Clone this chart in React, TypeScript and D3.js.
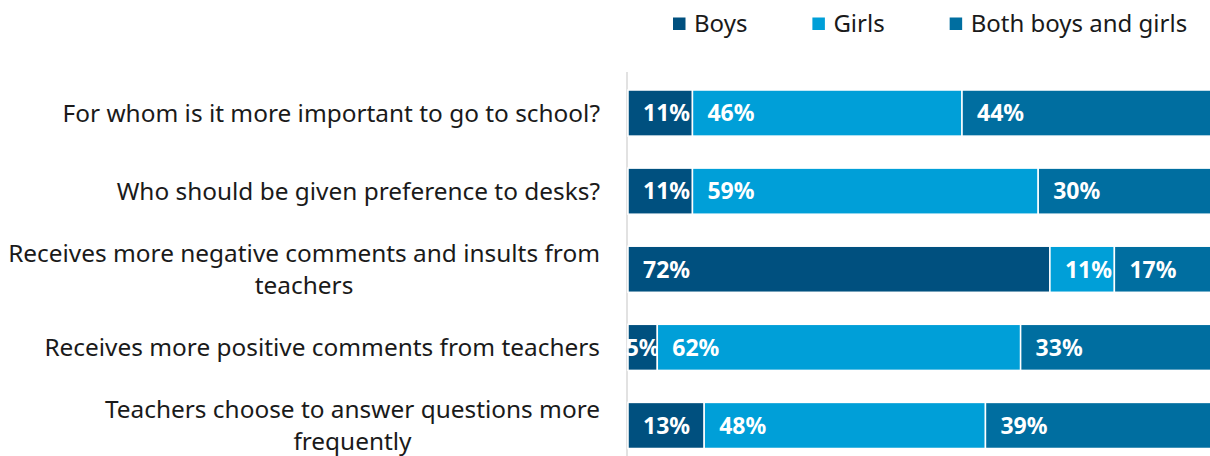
import React, { useEffect, useRef } from 'react';
import * as d3 from 'd3';

// question labels, pre-wrapped the way the source chart wraps them
const questions: string[][] = [
  ['For whom is it more important to go to school?'],
  ['Who should be given preference to desks?'],
  ['Receives more negative comments and insults from', 'teachers'],
  ['Receives more positive comments from teachers'],
  ['Teachers choose to answer questions more', 'frequently'],
];

const seriesNames = ['Boys', 'Girls', 'Both boys and girls'];
const boys = [11, 11, 72, 5, 13];
const girls = [46, 59, 11, 62, 48];
const both = [44, 30, 17, 33, 39];

const colors = ['#00507f', '#009fd8', '#006ea0'];

const W = 1210;
const H = 456;
const FONT = '"Noto Sans", "Open Sans", sans-serif';

const App: React.FC = () => {
  const svgRef = useRef<SVGSVGElement>(null);

  useEffect(() => {
    const svg = d3.select(svgRef.current);
    svg.selectAll('*').remove();

    const keys = ['q0', 'q1', 'q2', 'q3', 'q4'];
    const y = d3.scaleBand<string>()
      .domain(keys)
      .range([74, 464.5])
      .paddingInner(0.41)
      .paddingOuter(0.205);

    const x = d3.scaleLinear().domain([0, 100]).range([628, 1214]);

    // vertical axis line
    svg.append('line')
      .attr('x1', 627).attr('x2', 627)
      .attr('y1', 72).attr('y2', H)
      .attr('stroke', '#d9d9d9')
      .attr('stroke-width', 1.5);

    const series = [boys, girls, both];

    keys.forEach((k, i) => {
      let acc = 0;
      const yc = (y(k) || 0) + y.bandwidth() / 2;
      series.forEach((s, j) => {
        const v = s[i];
        const x0 = x(acc);
        const x1 = x(acc + v);
        acc += v;
        svg.append('rect')
          .attr('x', x0)
          .attr('y', y(k) || 0)
          .attr('width', x1 - x0)
          .attr('height', y.bandwidth())
          .attr('fill', colors[j])
          .attr('stroke', 'white')
          .attr('stroke-width', 1.5);

        const t = svg.append('text')
          .attr('y', yc + 8.3)
          .attr('fill', 'white')
          .style('font-family', FONT)
          .style('font-size', '23px')
          .style('font-weight', 'bold')
          .text(`${v}%`);
        const tw = (t.node() as SVGTextElement).getComputedTextLength();
        if (tw + 15 <= x1 - x0 + 3) {
          t.attr('x', x0 + 15);
        } else {
          t.attr('x', (x0 + x1) / 2).attr('text-anchor', 'middle');
        }
      });

      // category label, lines centred on the block, block right-aligned
      const lines = questions[i];
      const g = svg.append('g');
      const texts = lines.map((ln, li) =>
        g.append('text')
          .attr('y', yc + 8.5 + (li - (lines.length - 1) / 2) * 32)
          .attr('fill', '#1a1a1a')
          .attr('text-anchor', 'middle')
          .style('font-family', FONT)
          .style('font-size', '24.4px')
          .text(ln)
      );
      const widths = texts.map(t => (t.node() as SVGTextElement).getComputedTextLength());
      const blockW = d3.max(widths) || 0;
      texts.forEach(t => t.attr('x', 600 - blockW / 2));
    });

    // legend
    let lx = 673;
    seriesNames.forEach((name, j) => {
      svg.append('rect')
        .attr('x', lx).attr('y', 17.5)
        .attr('width', 12.5).attr('height', 12.5)
        .attr('fill', colors[j]);
      const t = svg.append('text')
        .attr('x', lx + 21)
        .attr('y', 32)
        .attr('fill', '#1a1a1a')
        .style('font-family', FONT)
        .style('font-size', '24px')
        .text(name);
      lx += 21 + (t.node() as SVGTextElement).getComputedTextLength() + 65;
    });
  }, []);

  return (
    <svg
      ref={svgRef}
      width={W}
      height={H}
      style={{ position: 'absolute', left: 0, top: 0, background: 'white' }}
    />
  );
};

export default App;
